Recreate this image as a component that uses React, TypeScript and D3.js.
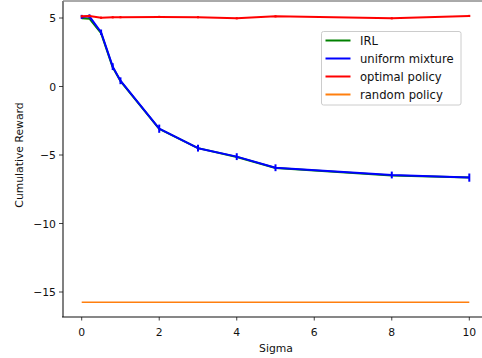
import { useEffect, useRef } from "react";
import * as d3 from "d3";

const sigmas = [0, 0.2, 0.5, 0.8, 1, 2, 3, 4, 5, 8, 10];
const irlReward = [4.98, 4.95, 3.9, 1.4, 0.4, -3.1, -4.5, -5.15, -5.95, -6.5, -6.65];
const mixtureReward = [5.08, 5.12, 3.96, 1.45, 0.42, -3.08, -4.5, -5.12, -5.93, -6.46, -6.65];
const mixtureErr = [0.15, 0.15, 0.2, 0.25, 0.25, 0.3, 0.25, 0.25, 0.25, 0.25, 0.3];
const optimalReward = [5.12, 5.15, 5.02, 5.05, 5.06, 5.08, 5.06, 4.98, 5.12, 4.98, 5.15];
const randomReward = [-15.75, -15.75, -15.75, -15.75, -15.75, -15.75, -15.75, -15.75, -15.75, -15.75, -15.75];

const xTicks = [0, 2, 4, 6, 8, 10];
const yTicks = [5, 0, -5, -10, -15];

const legendItems = [
  { label: "IRL", color: "#008000" },
  { label: "uniform mixture", color: "#0000ff" },
  { label: "optimal policy", color: "#ff0000" },
  { label: "random policy", color: "#ff7f0e" },
];

const W = 482;
const H = 358;
const FONT = "DejaVu Sans, sans-serif";
const FS = 10.8;

function Chart() {
  const svgRef = useRef<SVGSVGElement>(null);

  useEffect(() => {
    if (!svgRef.current) return;
    const svg = d3.select(svgRef.current);
    svg.selectAll("*").remove();

    const left = 63;
    const top = 1;
    const bottom = 317;
    const right = W;

    const x = d3.scaleLinear().domain([0, 10]).range([81.7, 469.3]);
    const y = d3.scaleLinear().domain([-15, 5]).range([292, 18]);

    svg.append("rect").attr("width", W).attr("height", H).attr("fill", "white");

    const line = d3
      .line<number>()
      .x((_, i) => x(sigmas[i]))
      .y((d) => y(d));

    // series
    const series = [
      { vals: irlReward, color: "#008000", w: 2, err: null as number[] | null },
      { vals: mixtureReward, color: "#0000ff", w: 2, err: mixtureErr },
      { vals: optimalReward, color: "#ff0000", w: 2, err: sigmas.map(() => 0.08) },
      { vals: randomReward, color: "#ff7f0e", w: 1.6, err: null },
    ];

    series.forEach((s) => {
      svg
        .append("path")
        .attr("d", line(s.vals))
        .attr("fill", "none")
        .attr("stroke", s.color)
        .attr("stroke-width", s.w)
        .attr("stroke-linejoin", "round");
      if (s.err) {
        svg
          .append("g")
          .selectAll("line")
          .data(s.vals)
          .join("line")
          .attr("x1", (_, i) => x(sigmas[i]))
          .attr("x2", (_, i) => x(sigmas[i]))
          .attr("y1", (d, i) => y(d + s.err![i]))
          .attr("y2", (d, i) => y(d - s.err![i]))
          .attr("stroke", s.color)
          .attr("stroke-width", 2);
      }
    });

    // spines
    svg.append("line").attr("x1", left).attr("x2", right).attr("y1", top).attr("y2", top)
      .attr("stroke", "#555").attr("stroke-width", 1);
    svg.append("line").attr("x1", left).attr("x2", left).attr("y1", top).attr("y2", bottom)
      .attr("stroke", "#808080").attr("stroke-width", 2);
    svg.append("line").attr("x1", left - 1).attr("x2", right).attr("y1", bottom).attr("y2", bottom)
      .attr("stroke", "#111").attr("stroke-width", 1.2);

    // x ticks
    const xg = svg.append("g");
    xTicks.forEach((t) => {
      xg.append("line").attr("x1", x(t)).attr("x2", x(t)).attr("y1", bottom).attr("y2", bottom + 3.5)
        .attr("stroke", "#111").attr("stroke-width", 0.8);
      xg.append("text").attr("x", x(t)).attr("y", bottom + 18.5).attr("text-anchor", "middle")
        .attr("font-family", FONT).attr("font-size", FS).attr("fill", "#111").text(String(t));
    });

    const fmt = (v: number) => (v < 0 ? "\u2212" + Math.abs(v) : String(v));
    const yg = svg.append("g");
    yTicks.forEach((t) => {
      yg.append("line").attr("x1", left - 4).attr("x2", left).attr("y1", y(t)).attr("y2", y(t))
        .attr("stroke", "#111").attr("stroke-width", 0.8);
      yg.append("text").attr("x", left - 7).attr("y", y(t) + 4).attr("text-anchor", "end")
        .attr("font-family", FONT).attr("font-size", FS).attr("fill", "#111").text(fmt(t));
    });

    svg.append("text").attr("x", (left + 489) / 2).attr("y", 352).attr("text-anchor", "middle")
      .attr("font-family", FONT).attr("font-size", FS).attr("fill", "#111").text("Sigma");
    svg.append("text")
      .attr("transform", `translate(23,${(top + bottom) / 2 - 4}) rotate(-90)`)
      .attr("text-anchor", "middle")
      .attr("font-family", FONT).attr("font-size", FS).attr("fill", "#111").text("Cumulative Reward");

    // legend
    const lg = svg.append("g").attr("transform", "translate(321.5,31.5)");
    lg.append("rect").attr("width", 139.5).attr("height", 73.5).attr("rx", 2)
      .attr("fill", "white").attr("fill-opacity", 0.8).attr("stroke", "#ccc").attr("stroke-width", 1);
    legendItems.forEach((item, i) => {
      const cy = 9 + i * 18;
      lg.append("line").attr("x1", 4).attr("x2", 29).attr("y1", cy).attr("y2", cy)
        .attr("stroke", item.color).attr("stroke-width", 2);
      lg.append("text").attr("x", 38.5).attr("y", cy + 4)
        .attr("font-family", FONT).attr("font-size", 11.6).attr("fill", "#111").text(item.label);
    });
  }, []);

  return <svg ref={svgRef} width={W} height={H} style={{ display: "block" }} />;
}

export default function App() {
  return (
    <div style={{ position: "fixed", left: 0, top: 0, width: W, height: H, overflow: "hidden" }}>
      <Chart />
    </div>
  );
}
